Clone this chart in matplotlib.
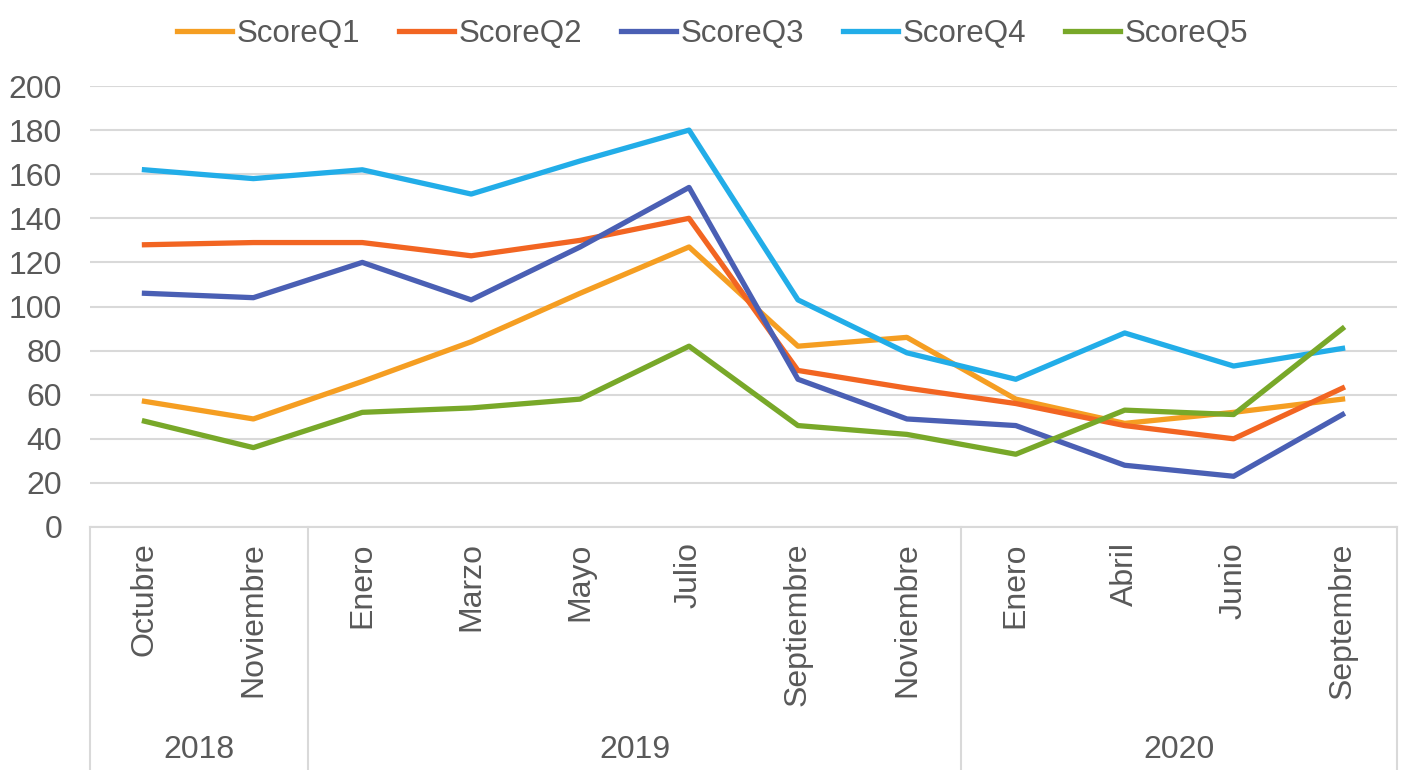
import matplotlib.pyplot as plt
import matplotlib.lines as mlines
import numpy as np

plt.rcParams['font.family'] = ['Liberation Sans', 'DejaVu Sans']

# data
months = ['Octubre', 'Noviembre', 'Enero', 'Marzo', 'Mayo', 'Julio',
          'Septiembre', 'Noviembre', 'Enero', 'Abril', 'Junio', 'Septembre']
years = ['2018', '2019', '2020']
year_counts = [2, 6, 4]

q1 = [57, 49, 66, 84, 106, 127, 82, 86, 58, 47, 52, 58]
q2 = [128, 129, 129, 123, 130, 140, 71, 63, 56, 46, 40, 63]
q3 = [106, 104, 120, 103, 127, 154, 67, 49, 46, 28, 23, 51]
q4 = [162, 158, 162, 151, 166, 180, 103, 79, 67, 88, 73, 81]
q5 = [48, 36, 52, 54, 58, 82, 46, 42, 33, 53, 51, 90]

series = [('ScoreQ1', q1, '#F59E22'), ('ScoreQ2', q2, '#F26522'),
          ('ScoreQ3', q3, '#4A5FB4'), ('ScoreQ4', q4, '#22ADE8'),
          ('ScoreQ5', q5, '#78A829')]

txt = '#595959'
grid = '#D9D9D9'

fig = plt.figure(figsize=(14.03, 7.70), dpi=100)
ax = fig.add_axes([90/1403, 1-527/770, 1307/1403, 441/770])

x = np.arange(len(months))
for name, vals, col in series:
    ax.plot(x, vals, color=col, lw=3.8, label=name, solid_joinstyle='round')

ax.set_xlim(-0.5, len(months)-0.5)
ax.set_ylim(0, 200)
ax.set_yticks(range(0, 201, 20))
ax.yaxis.grid(True, color=grid, lw=1.5)
ax.set_axisbelow(True)
for s in ['top', 'right', 'left']:
    ax.spines[s].set_visible(False)
ax.spines['bottom'].set_color(grid)
ax.spines['bottom'].set_linewidth(1.5)
ax.tick_params(axis='y', length=0, pad=20, labelsize=23, labelcolor=txt)
ax.set_xticks(x)
ax.set_xticklabels(months, rotation=90, fontsize=23, color=txt, va='top', ha='center')
ax.tick_params(axis='x', length=0, pad=11)

# year level of the category axis
trans = ax.get_xaxis_transform()
edges = np.concatenate([[0], np.cumsum(year_counts)]) - 0.5
for e in edges:
    ax.add_line(mlines.Line2D([e, e], [0, -0.56], transform=trans, color=grid,
                              lw=1.5, clip_on=False))
for i, yr in enumerate(years):
    ax.text((edges[i]+edges[i+1])/2, -0.505, yr, transform=trans, ha='center',
            va='center', fontsize=23, color=txt)

leg = fig.legend(loc='upper center', bbox_to_anchor=(0.508, 1.012), ncol=5,
                 frameon=False, fontsize=22.5, handlelength=1.75, handletextpad=0.15,
                 columnspacing=1.25)
for t in leg.get_texts():
    t.set_color(txt)

fig.savefig('out.png', dpi=100)
